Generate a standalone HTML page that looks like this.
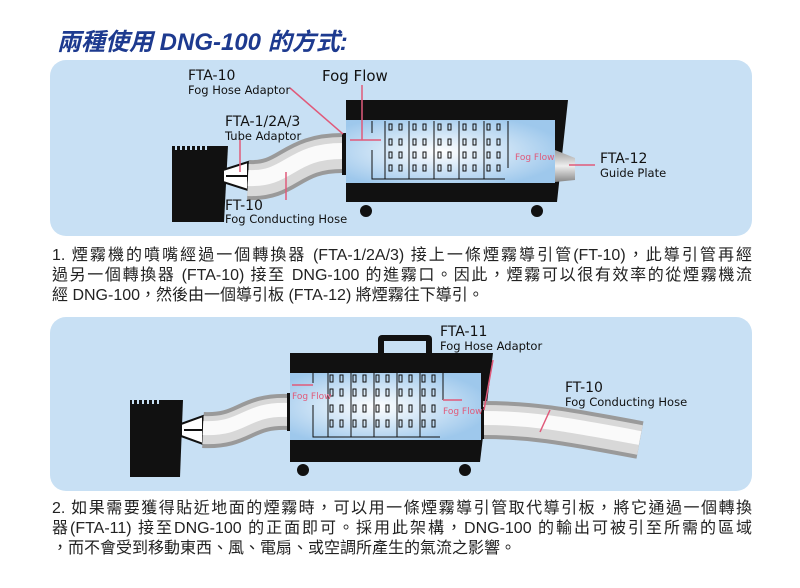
<!DOCTYPE html>
<html><head><meta charset="utf-8"><style>
body{margin:0;width:800px;height:588px;background:#fff;position:relative;overflow:hidden;font-family:"Liberation Sans","Noto Sans CJK TC",sans-serif}
.t{position:absolute;left:52px;width:700px;font-size:16px;color:#222;white-space:nowrap;line-height:20px}
.j{text-align:justify;text-align-last:justify}
svg text{font-family:"DejaVu Sans","Liberation Sans",sans-serif}
</style></head><body>
<div style="position:absolute;left:57px;top:22px;font-size:24px;font-style:italic;font-weight:bold;color:#1d3a8f;font-family:'Liberation Sans','Noto Sans CJK TC',sans-serif">兩種使用 DNG-100 的方式:</div>
<svg width="800" height="588" style="position:absolute;left:0;top:0">
<defs>
<radialGradient id="blue" cx="0.45" cy="0.5" r="0.6"><stop offset="0" stop-color="#ffffff"/><stop offset="1" stop-color="#9ec8ec"/></radialGradient>
<linearGradient id="cone" x1="0" y1="0" x2="0" y2="1"><stop offset="0" stop-color="#9a9a9a"/><stop offset="0.5" stop-color="#eee"/><stop offset="1" stop-color="#888"/></linearGradient>
</defs>
<rect x="50" y="60" width="702" height="176" rx="16" fill="#c8e0f4"/>
<rect x="50" y="317" width="702" height="174" rx="16" fill="#c8e0f4"/>

<!-- Diagram 1 -->
<path d="M172 146 H228 L224 222 H172 Z" fill="#111"/>
<g fill="#c8e0f4"><rect x="175" y="146" width="2" height="4"/><rect x="180" y="146" width="2" height="4"/><rect x="185" y="146" width="2" height="4"/><rect x="190" y="146" width="2" height="4"/><rect x="195" y="146" width="2" height="4"/><rect x="200" y="146" width="2" height="4"/><rect x="205" y="146" width="2" height="4"/></g>
<path d="M223 170 L248 162 V190 L223 182 Z M226 176 H248" fill="#fff" stroke="#111" stroke-width="2"/>
<g fill="none">
<path d="M248 180 C290 182 290 152 345 153" stroke="#9a9a9a" stroke-width="40"/>
<path d="M248 180 C290 182 290 152 345 153" stroke="#d8d8d8" stroke-width="32"/>
<path d="M248 178 C290 180 290 150 345 151" stroke="#fafafa" stroke-width="16"/>
</g>
<rect x="342" y="133" width="4" height="42" fill="#111"/>
<path d="M346 100 H568 L557 202 H346 Z" fill="#111"/>
<rect x="346" y="120" width="209" height="63" fill="url(#blue)"/>
<path d="M555 150 L575 158 V180 L555 182 Z" fill="url(#cone)"/>
<g stroke="#111" stroke-width="1" fill="none">
<path d="M372 121 V133 M372 150 V179 H505"/>
<path d="M385 121 V179 M409 121 V179 M434 121 V179 M459 121 V179 M484 121 V179 M508 121 V168"/>
</g>
<g fill="none" stroke="#111" stroke-width="1">
<g id="c1"><rect x="389" y="124" width="3" height="6"/><rect x="389" y="139" width="3" height="6"/><rect x="389" y="152" width="3" height="6"/><rect x="389" y="165" width="3" height="6"/></g>
<use href="#c1" x="10"/><use href="#c1" x="24"/><use href="#c1" x="34"/><use href="#c1" x="49"/><use href="#c1" x="59"/><use href="#c1" x="74"/><use href="#c1" x="84"/><use href="#c1" x="98"/><use href="#c1" x="108"/>
</g>
<circle cx="366" cy="211" r="6" fill="#111"/><circle cx="537" cy="211" r="6" fill="#111"/>
<g stroke="#e05a7a" stroke-width="1.5" fill="none">
<path d="M350 140 H381 M362 85 V140 M290 88 L343 134 M240 140 V172 M286 200 V172 M569 165 H595"/>
</g>
<text x="515" y="160" font-size="9" fill="#e05a7a">Fog Flow</text>
<g fill="#111">
<text x="188" y="80" font-size="14">FTA-10</text><text x="188" y="94" font-size="11.5">Fog Hose Adaptor</text>
<text x="322" y="81" font-size="15">Fog Flow</text>
<text x="225" y="126" font-size="14">FTA-1/2A/3</text><text x="225" y="140" font-size="11.5">Tube Adaptor</text>
<text x="225" y="210" font-size="14">FT-10</text><text x="225" y="223" font-size="11.5">Fog Conducting Hose</text>
<text x="600" y="163" font-size="14">FTA-12</text><text x="600" y="177" font-size="11.5">Guide Plate</text>
</g>

<!-- Diagram 2 -->
<path d="M130 400 H183 L180 477 H130 Z" fill="#111"/>
<g fill="#c8e0f4"><rect x="132" y="400" width="2" height="4"/><rect x="137" y="400" width="2" height="4"/><rect x="142" y="400" width="2" height="4"/><rect x="147" y="400" width="2" height="4"/><rect x="152" y="400" width="2" height="4"/><rect x="157" y="400" width="2" height="4"/></g>
<path d="M181 424 L203 416 V444 L181 436 Z M184 430 H203" fill="#fff" stroke="#111" stroke-width="2"/>
<g fill="none">
<path d="M203 430 C245 432 245 410 289 412" stroke="#9a9a9a" stroke-width="36"/>
<path d="M203 430 C245 432 245 410 289 412" stroke="#d8d8d8" stroke-width="28"/>
<path d="M203 428 C245 430 245 408 289 410" stroke="#fafafa" stroke-width="14"/>
</g>
<rect x="287" y="393" width="3" height="38" fill="#111"/>
<rect x="378" y="335" width="54" height="22" rx="4" fill="#111"/><rect x="384" y="341" width="42" height="14" fill="#c8e0f4"/>
<path d="M290 353 H493 L480 462 H290 Z" fill="#111"/>
<rect x="290" y="373" width="191" height="67" fill="url(#blue)"/>
<g fill="none">
<path d="M483 420 C530 420 560 425 640 440" stroke="#9a9a9a" stroke-width="38"/>
<path d="M483 420 C530 420 560 425 640 440" stroke="#d8d8d8" stroke-width="30"/>
<path d="M483 418 C530 418 560 423 640 438" stroke="#fafafa" stroke-width="14"/>
</g>
<rect x="481" y="407" width="3" height="32" fill="#111"/>
<g stroke="#111" stroke-width="1" fill="none">
<path d="M313 373 V383 M313 405 V437 H440"/>
<path d="M328 373 V437 M351 373 V437 M374 373 V437 M397 373 V437 M420 373 V437 M443 373 V400"/>
</g>
<g fill="none" stroke="#111" stroke-width="1">
<g id="c2"><rect x="330" y="375" width="3" height="7"/><rect x="330" y="389" width="3" height="7"/><rect x="330" y="405" width="3" height="7"/><rect x="330" y="420" width="3" height="7"/></g>
<use href="#c2" x="10"/><use href="#c2" x="23"/><use href="#c2" x="33"/><use href="#c2" x="46"/><use href="#c2" x="56"/><use href="#c2" x="69"/><use href="#c2" x="79"/><use href="#c2" x="92"/><use href="#c2" x="102"/>
</g>
<circle cx="303" cy="470" r="6" fill="#111"/><circle cx="465" cy="470" r="6" fill="#111"/>
<g stroke="#e05a7a" stroke-width="1.5" fill="none"><path d="M292 385 H313 M443 400 H462 M493 360 L484 410 M550 410 L540 432"/></g>
<text x="292" y="399" font-size="9" fill="#e05a7a">Fog Flow</text>
<text x="443" y="414" font-size="9" fill="#e05a7a">Fog Flow</text>
<g fill="#111">
<text x="440" y="336" font-size="14">FTA-11</text><text x="440" y="350" font-size="11.5">Fog Hose Adaptor</text>
<text x="565" y="392" font-size="14">FT-10</text><text x="565" y="406" font-size="11.5">Fog Conducting Hose</text>
</g>
</svg>
<div class="t j" style="top:246px">1. 煙霧機的噴嘴經過一個轉換器 (FTA-1/2A/3) 接上一條煙霧導引管(FT-10)，此導引管再經</div>
<div class="t j" style="top:266px">過另一個轉換器 (FTA-10) 接至 DNG-100 的進霧口。因此，煙霧可以很有效率的從煙霧機流</div>
<div class="t" style="top:286px">經 DNG-100，然後由一個導引板 (FTA-12) 將煙霧往下導引。</div>
<div class="t j" style="top:499px">2. 如果需要獲得貼近地面的煙霧時，可以用一條煙霧導引管取代導引板，將它通過一個轉換</div>
<div class="t j" style="top:519px">器(FTA-11) 接至DNG-100 的正面即可。採用此架構，DNG-100 的輸出可被引至所需的區域</div>
<div class="t" style="top:539px">，而不會受到移動東西、風、電扇、或空調所產生的氣流之影響。</div>
</body></html>
